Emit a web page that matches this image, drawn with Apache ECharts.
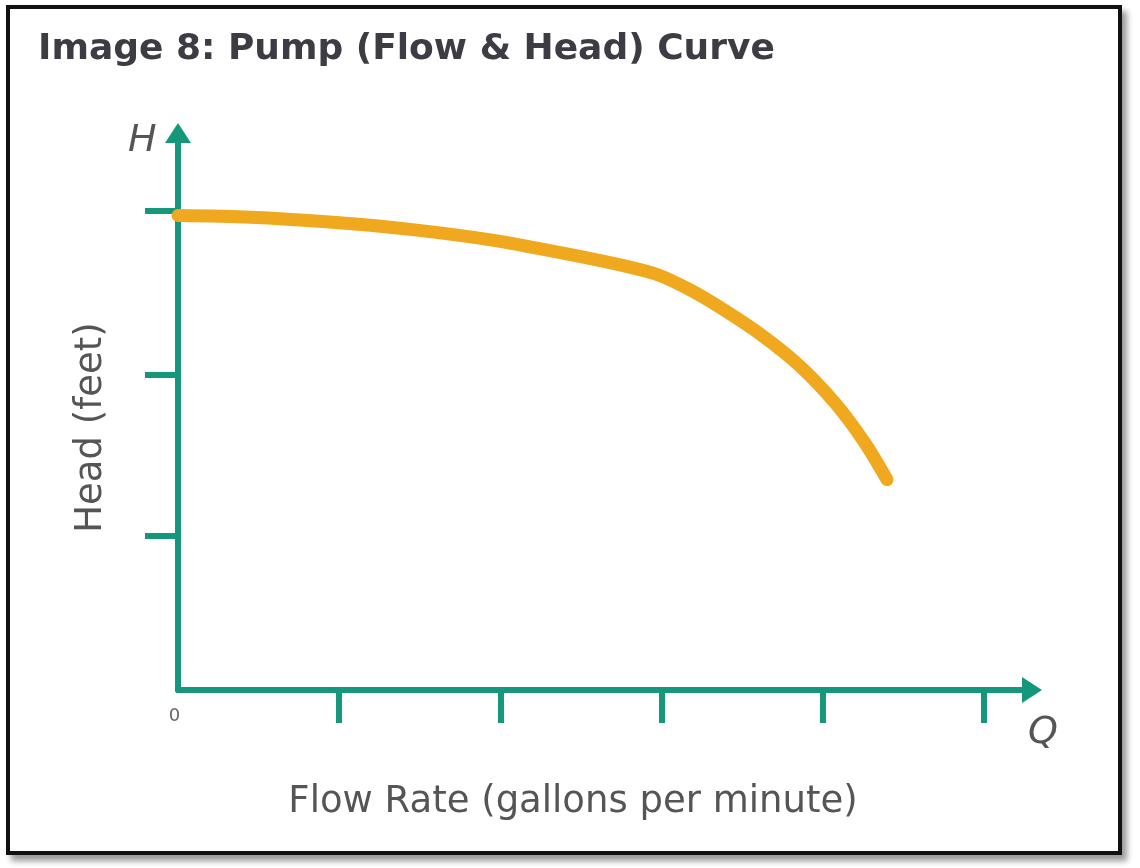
<!DOCTYPE html>
<html>
<head>
<meta charset="utf-8">
<script src="https://cdn.jsdelivr.net/npm/echarts@6/dist/echarts.min.js"></script>
<style>
  html, body { margin: 0; padding: 0; background: #ffffff; }
  #chart { position: absolute; left: 0; top: 0; width: 1140px; height: 868px; }
  #frame { position: absolute; left: 6px; top: 5px; width: 1116px; height: 850px; box-sizing: border-box;
           border: 4px solid #111; box-shadow: 5px 6px 6px #9a9a9a; pointer-events: none; }
</style>
</head>
<body>
<div id="frame"></div>
<div id="chart"></div>
<script>
// Flow rate (x) and head (y)
const flowRate = [0, 45, 94, 144, 194, 243, 281, 299, 318, 336, 361, 386, 408, 426, 440];
const head     = [293, 292, 289, 284.5, 278, 269, 261, 256, 247, 236.5, 220, 200, 177, 153, 130];
// tick positions (no numeric labels except the origin)
const xTicks = [100, 200, 300, 400, 500];
const yTicks = [95, 195, 296];
const xLabels = [0];

const teal = '#15977b';
const orange = '#f0a81f';

const chart = echarts.init(document.getElementById('chart'), null, { renderer: 'canvas' });
chart.setOption({
  backgroundColor: 'transparent',
  animation: false,
  title: {
    text: 'Image 8: Pump (Flow & Head) Curve',
    left: 33, top: 27,
    textStyle: { fontFamily: 'DejaVu Sans', fontWeight: 'bold', fontSize: 36, color: '#3c3c44' }
  },
  grid: { left: 178, right: 108, top: 133, bottom: 178, containLabel: false },
  xAxis: {
    type: 'value', min: 0, max: 530,
    name: 'Flow Rate (gallons per minute)',
    nameLocation: 'middle', nameGap: 94,
    nameTextStyle: { fontFamily: 'DejaVu Sans', fontSize: 37, color: '#555', padding: [0, 64, 0, 0] },
    axisLine: { show: true, onZero: true, symbol: ['none', 'triangle'], symbolSize: [26, 20],
      lineStyle: { color: teal, width: 6 } },
    axisTick: { show: true, customValues: xTicks, length: 33, inside: false,
      lineStyle: { color: teal, width: 6 } },
    axisLabel: { show: true, customValues: xLabels, margin: 17, fontFamily: 'DejaVu Sans',
      fontSize: 18, color: '#666', padding: [0, 7, 0, 0] },
    splitLine: { show: false }
  },
  yAxis: {
    type: 'value', min: 0, max: 344,
    name: 'Head (feet)',
    nameLocation: 'middle', nameGap: 68, nameRotate: 90,
    nameTextStyle: { fontFamily: 'DejaVu Sans', fontSize: 37, color: '#555', padding: [0, 32, 0, 0] },
    axisLine: { show: true, onZero: true, symbol: ['none', 'triangle'], symbolSize: [26, 20],
      lineStyle: { color: teal, width: 6 } },
    axisTick: { show: true, customValues: yTicks, length: 33, inside: false,
      lineStyle: { color: teal, width: 6 } },
    axisLabel: { show: false },
    splitLine: { show: false }
  },
  graphic: [
    { type: 'text', left: 128, top: 122,
      style: { text: 'H', fontFamily: 'DejaVu Sans', fontStyle: 'italic', fontSize: 38, fill: '#555' } },
    { type: 'text', left: 1028, top: 714,
      style: { text: 'Q', fontFamily: 'DejaVu Sans', fontStyle: 'italic', fontSize: 38, fill: '#555' } }
  ],
  series: [{
    type: 'line',
    data: flowRate.map((x, i) => [x, head[i]]),
    smooth: 0.3,
    showSymbol: false,
    clip: false,
    lineStyle: { color: orange, width: 13, cap: 'round', join: 'round' },
    z: 5
  }]
});
</script>
</body>
</html>
